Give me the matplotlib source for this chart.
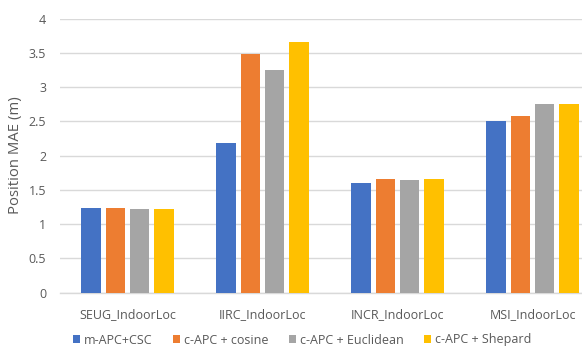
import matplotlib
matplotlib.use("Agg")
import matplotlib.pyplot as plt
import numpy as np
from matplotlib.patches import Patch

categories = ["SEUG_IndoorLoc", "IIRC_IndoorLoc", "INCR_IndoorLoc", "MSI_IndoorLoc"]
series_names = ["m-APC+CSC", "c-APC + cosine", "c-APC + Euclidean", "c-APC + Shepard"]
m_apc_csc = [1.24, 2.18, 1.60, 2.51]
c_apc_cosine = [1.23, 3.48, 1.66, 2.58]
c_apc_euclidean = [1.22, 3.25, 1.64, 2.75]
c_apc_shepard = [1.22, 3.66, 1.66, 2.76]
y_ticks = [0, 0.5, 1, 1.5, 2, 2.5, 3, 3.5, 4]

colors = ["#4472C4", "#ED7D31", "#A5A5A5", "#FFC000"]
text_color = "#595959"
grid_color = "#D9D9D9"

plt.rcParams["font.family"] = ["Open Sans", "DejaVu Sans"]
fs = 9

W, H = 582, 348
fig = plt.figure(figsize=(W / 100, H / 100), dpi=100)
left_px, right_px, top_px, bottom_px = 60, 600, 18.7, 292.7
ax = fig.add_axes([left_px / W, 1 - bottom_px / H,
                   (right_px - left_px) / W, (bottom_px - top_px) / H])

x = np.arange(len(categories))
all_series = [m_apc_csc, c_apc_cosine, c_apc_euclidean, c_apc_shepard]
pitch = 0.181
width = 0.144
for i, (vals, name, col) in enumerate(zip(all_series, series_names, colors)):
    ax.bar(x + (i - 1.5) * pitch, vals, width=width, color=col, label=name, zorder=3)

ax.set_xlim(-0.5, len(categories) - 0.5)
ax.set_ylim(0, 4)
ax.set_yticks(y_ticks)
ax.set_yticklabels([f"{t:g}" for t in y_ticks])
ax.set_xticks(x)
ax.set_xticklabels(categories)
ax.yaxis.grid(True, color=grid_color, linewidth=1.0, zorder=0)
ax.set_axisbelow(True)
for s in ["top", "right", "left"]:
    ax.spines[s].set_visible(False)
ax.spines["bottom"].set_color(grid_color)
ax.spines["bottom"].set_linewidth(1.0)
ax.tick_params(axis="both", length=0, labelsize=fs, colors=text_color)
ax.tick_params(axis="x", pad=11)
ax.tick_params(axis="y", pad=10)

fig.text(16 / W, 1 - 155 / H, "Position MAE (m)", rotation=90, va="center", ha="center",
         fontsize=10.7, color=text_color)

handles = [Patch(facecolor=c, edgecolor="none") for c in colors]
leg = fig.legend(handles, series_names, loc="center", bbox_to_anchor=(302 / W, 1 - 340 / H),
                 ncol=4, frameon=False, fontsize=fs, handlelength=0.6, handleheight=0.6,
                 handletextpad=0.3, columnspacing=1.6, labelcolor=text_color)

fig.savefig("out.png", dpi=100)
